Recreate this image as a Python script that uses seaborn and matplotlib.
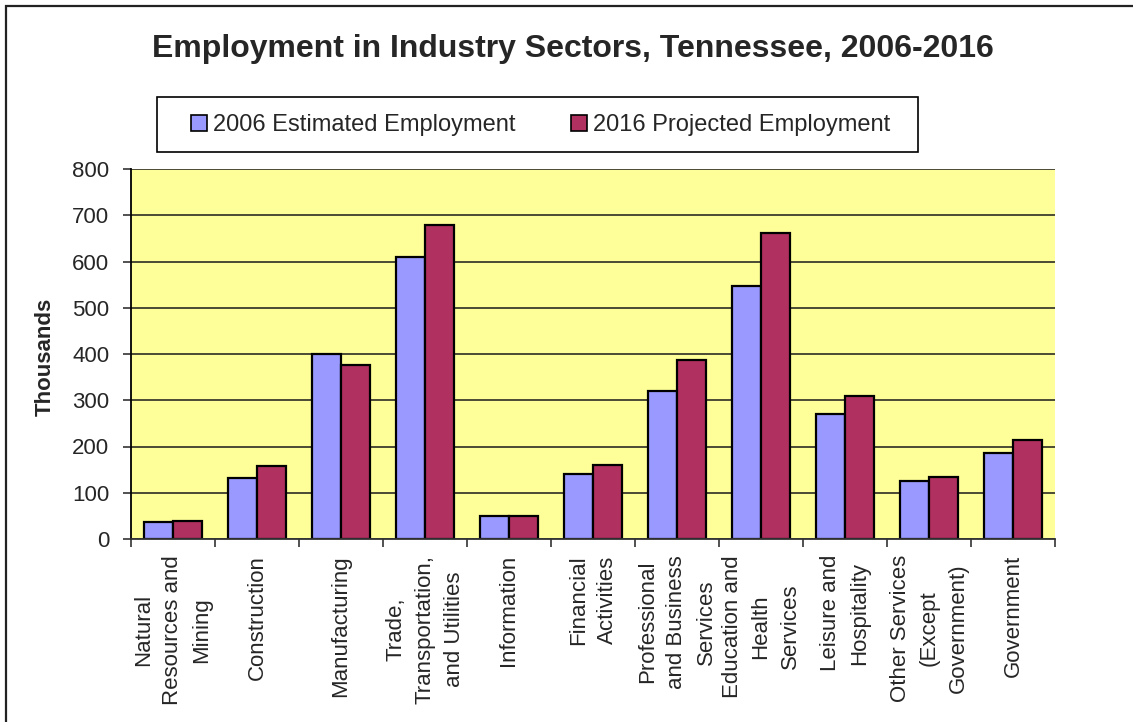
import matplotlib
matplotlib.use("Agg")
import matplotlib.pyplot as plt
from matplotlib.patches import Rectangle
import seaborn as sns
import pandas as pd

# ---- data ----
sectors = [
    "Natural Resources and Mining", "Construction", "Manufacturing",
    "Trade, Transportation, and Utilities", "Information", "Financial Activities",
    "Professional and Business Services", "Education and Health Services",
    "Leisure and Hospitality", "Other Services (Except Government)", "Government",
]
tick_labels = [
    "Natural\nResources and\nMining", "Construction", "Manufacturing",
    "Trade,\nTransportation,\nand Utilities", "Information", "Financial\nActivities",
    "Professional\nand Business\nServices", "Education and\nHealth\nServices",
    "Leisure and\nHospitality", "Other Services\n(Except\nGovernment)", "Government",
]
series_names = ["2006 Estimated Employment", "2016 Projected Employment"]
emp_2006 = [37, 132, 399, 610, 49, 141, 320, 548, 270, 125, 187]
emp_2016 = [40, 157, 377, 680, 49, 160, 386, 662, 309, 135, 214]
y_ticks = [0, 100, 200, 300, 400, 500, 600, 700, 800]

df = pd.DataFrame({
    "sector": sectors * 2,
    "series": [series_names[0]] * len(sectors) + [series_names[1]] * len(sectors),
    "value": emp_2006 + emp_2016,
})

sns.set_theme(style="white")
plt.rcParams["font.family"] = ["Liberation Sans", "DejaVu Sans"]

W, H = 1133, 722
fig = plt.figure(figsize=(W / 100, H / 100), dpi=100)
ax = fig.add_axes([131 / W, (H - 539) / H, 924 / W, 370 / H])

blue = "#9999FF"
red = "#B0305F"
sns.barplot(data=df, x="sector", y="value", hue="series", order=sectors,
            hue_order=series_names, palette=[blue, red], width=0.68, gap=0,
            edgecolor="black", linewidth=1.6, saturation=1, ax=ax)

handles, labels = ax.get_legend_handles_labels()
if ax.get_legend() is not None:
    ax.get_legend().remove()

ax.set_facecolor("#FFFF99")
ax.set_ylim(0, 800)
ax.set_xlim(-0.5, len(sectors) - 0.5)
ax.set_yticks(y_ticks)
ax.set_yticklabels([str(v) for v in y_ticks], fontsize=16)
ax.yaxis.grid(True, color="#1a1a1a", linewidth=1.1)
ax.xaxis.grid(False)
ax.set_axisbelow(True)

ax.set_xticks(range(len(sectors)))
ax.set_xticklabels(tick_labels, rotation=90, fontsize=16, ha="center", va="top",
                   multialignment="center", linespacing=1.5)
ax.set_xticks([i - 0.5 for i in range(len(sectors) + 1)], minor=True)
ax.tick_params(axis="x", which="major", length=0, pad=11.5)
ax.tick_params(axis="x", which="minor", length=5.5, width=1.2, color="#333333", direction="out", bottom=True)
ax.tick_params(axis="y", which="major", length=5.5, width=1.2, color="#333333", direction="out", left=True, pad=10)

for s in ["top", "right"]:
    ax.spines[s].set_visible(False)
ax.spines["left"].set_color("black")
ax.spines["left"].set_linewidth(1.3)
ax.spines["bottom"].set_color("#333333")
ax.spines["bottom"].set_linewidth(1.3)

ax.set_xlabel("")
ax.set_ylabel("Thousands", fontsize=16, fontweight="bold")
ax.yaxis.set_label_coords((56 - 131) / 924, (539 - 357) / 370)

# title
fig.text(573 / W, 1 - 49 / H, "Employment in Industry Sectors, Tennessee, 2006-2016",
         ha="center", va="center", fontsize=23, fontweight="bold")

# legend frame + legend
fig.patches.append(Rectangle((157 / W, 1 - 152 / H), (918 - 157) / W, 55 / H,
                             transform=fig.transFigure, fill=False,
                             edgecolor="black", linewidth=1.2))
leg = fig.legend(handles, labels, loc="center", bbox_to_anchor=(540.5 / W, 1 - 125 / H),
                 ncol=2, frameon=False, fontsize=17, handlelength=0.68,
                 handleheight=0.68, handletextpad=0.25, columnspacing=2.35)
for h in leg.legend_handles:
    h.set_edgecolor("black")
    h.set_linewidth(1.2)

# chart border
fig.patches.append(Rectangle((6 / W, -0.1), 1.2, (H - 6) / H + 0.1,
                             transform=fig.transFigure, fill=False,
                             edgecolor="#222222", linewidth=1.6))

fig.savefig("out.png", dpi=100)
